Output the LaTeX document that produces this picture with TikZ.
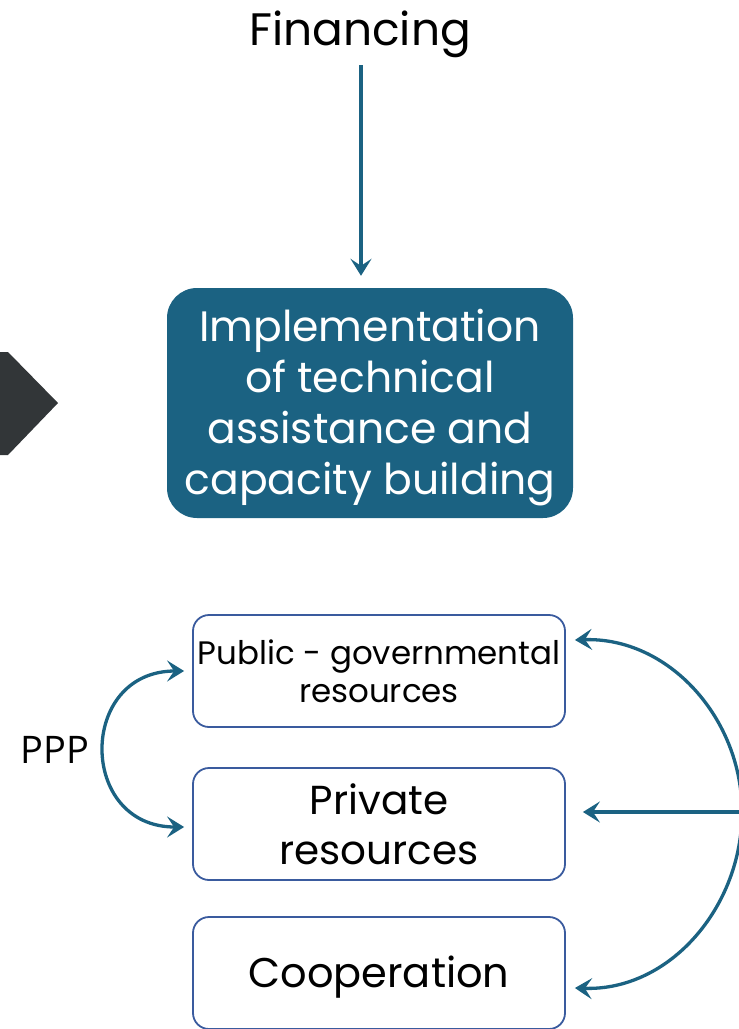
\documentclass[tikz,border=0pt]{standalone}
\usepackage{fontspec}
\setmainfont{Poppins}
\newfontfamily\pppfont{Open Sans}
\usetikzlibrary{arrows.meta,calc}
\definecolor{teal}{HTML}{1B6282}
\definecolor{boxline}{HTML}{3A5B9E}
\definecolor{chev}{HTML}{323638}
\tikzset{
  tip/.tip={Stealth[length=17pt,width=21pt,inset=7pt]},
  conn/.style={draw=teal, line width=3.3pt, -tip},
  resbox/.style={draw=boxline, line width=1.8pt, rounded corners=16pt, minimum width=372pt, minimum height=112pt, align=center, inner sep=0pt},
  mainbox/.style={fill=teal, rounded corners=30pt, minimum width=406pt, minimum height=230pt, align=center, text=white, inner sep=0pt},
  label text/.style={align=center, inner sep=0pt},
}
\begin{document}
\begin{tikzpicture}[x=1pt,y=-1pt]
\useasboundingbox (0,0) rectangle (739,1029);
\fill[chev] (0,352) -- (8,352) -- (58,403) -- (8,455) -- (0,455) -- cycle;
\node[font=\fontsize{45.5}{52}\selectfont] (fin) at (360,34) {Financing};
\node[mainbox] (impl) at (370,403) {};
\node[label text, text=white, font=\fontsize{42.5}{51}\selectfont] (implT) at ([yshift=-5pt]impl.center) {Implementation\\ of technical\\ assistance and\\ capacity building};
\node[resbox, font=\fontsize{32.5}{38}\selectfont] (pub) at (379,671) {Public - governmental\\ resources};
\node[resbox, font=\fontsize{40.5}{50}\selectfont] (priv) at (379,824) {Private\\ resources};
\node[resbox] (coop) at (379,973) {};
\node[label text, font=\fontsize{41.5}{46}\selectfont] (coopT) at ([yshift=-4pt]coop.center) {Cooperation};
\node[font=\fontsize{38}{44}\pppfont] (ppp) at (55,750) {PPP};
\coordinate (finTop) at ([xshift=-9pt]impl.north |- 0,65);
\draw[conn] (finTop) -- ([xshift=-9pt,yshift=12pt]impl.north);
\draw[conn, tip-tip] ([xshift=-8pt]pub.west) to[out=180,in=180,looseness=1.75] ([xshift=-8pt,yshift=-3pt]priv.west);
\coordinate (R) at (742,812);
\draw[conn] (R) to[out=90,in=2,looseness=1.0] ([xshift=9pt,yshift=31pt]pub.east);
\draw[conn] (R) -- ([xshift=17pt,yshift=12pt]priv.east);
\draw[conn] (R) to[out=-90,in=-2,looseness=1.0] ([xshift=9pt,yshift=-15pt]coop.east);
\end{tikzpicture}
\end{document}
